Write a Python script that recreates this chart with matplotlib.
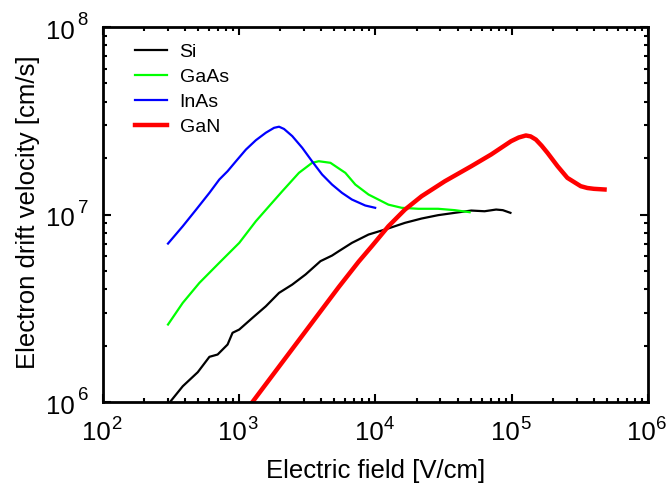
import numpy as np
import matplotlib
matplotlib.use("Agg")
import matplotlib.pyplot as plt
from matplotlib.transforms import offset_copy

plt.rcParams['font.family'] = ['Liberation Sans', 'DejaVu Sans']

# --- drift velocity curves: field [V/cm], velocity [cm/s] ---
si_field = [300, 385, 496, 604, 694, 821, 893, 1000, 1250, 1567, 1959, 2449,
            3069, 3946, 4797, 5370, 6714, 8890, 1.177e4, 1.647e4, 2.18e4,
            2.88e4, 3.82e4, 5.05e4, 6.32e4, 7.68e4, 8.6e4, 9.78e4]
si_vel = [0.97e6, 1.214e6, 1.442e6, 1.742e6, 1.792e6, 2.026e6, 2.34e6, 2.435e6,
          2.81e6, 3.24e6, 3.82e6, 4.23e6, 4.79e6, 5.64e6, 6.04e6, 6.37e6,
          7.06e6, 7.82e6, 8.32e6, 9.03e6, 9.52e6, 9.92e6, 1.021e7, 1.05e7,
          1.041e7, 1.063e7, 1.055e7, 1.021e7]

gaas_field = [300, 385, 510, 714, 1000, 1324, 1656, 2071, 2741, 3428, 3837,
              4670, 6010, 7110, 8890, 1.05e4, 1.244e4, 1.556e4, 2.06e4,
              2.88e4, 3.82e4, 4.91e4]
gaas_vel = [2.59e6, 3.38e6, 4.32e6, 5.53e6, 7.06e6, 9.21e6, 1.108e7, 1.332e7,
            1.668e7, 1.887e7, 1.924e7, 1.887e7, 1.668e7, 1.445e7, 1.278e7,
            1.202e7, 1.129e7, 1.086e7, 1.073e7, 1.073e7, 1.055e7, 1.029e7]

inas_field = [300, 385, 483, 604, 714, 821, 946, 1119, 1324, 1567, 1801, 1959,
              2131, 2449, 2898, 3428, 4055, 4797, 5675, 6714, 8413, 9944]
inas_vel = [7.0e6, 8.66e6, 1.063e7, 1.305e7, 1.537e7, 1.702e7, 1.924e7, 2.22e7,
            2.49e7, 2.73e7, 2.90e7, 2.94e7, 2.86e7, 2.62e7, 2.27e7, 1.92e7,
            1.635e7, 1.445e7, 1.305e7, 1.202e7, 1.117e7, 1.086e7]

gan_field = [1250, 5370, 7516, 9400, 1.244e4, 1.647e4, 2.18e4, 3.23e4, 5.05e4,
             7.06e4, 9.88e4, 1.125e5, 1.27e5, 1.376e5, 1.504e5, 1.656e5,
             1.832e5, 2.17e5, 2.56e5, 3.21e5, 3.59e5, 4.01e5, 4.8e5]
gan_vel = [1.0e6, 4.1e6, 5.6e6, 6.78e6, 8.66e6, 1.063e7, 1.252e7, 1.505e7,
           1.81e7, 2.09e7, 2.46e7, 2.575e7, 2.64e7, 2.61e7, 2.51e7, 2.33e7,
           2.13e7, 1.81e7, 1.569e7, 1.416e7, 1.385e7, 1.371e7, 1.36e7]

x_exps = [2, 3, 4, 5, 6]
y_exps = [6, 7, 8]

fig = plt.figure(figsize=(6.71, 4.86), dpi=100)
ax = fig.add_axes([0.1535, 0.1728, 0.8122, 0.7716])

ax.plot(si_field, si_vel, color='black', lw=1.6, label='Si')
ax.plot(gaas_field, gaas_vel, color='#00ff00', lw=1.6, label='GaAs')
ax.plot(inas_field, inas_vel, color='#0000ff', lw=1.6, label='InAs')
ax.plot(gan_field, gan_vel, color='#ff0000', lw=3.2, label='GaN')

ax.set_xscale('log')
ax.set_yscale('log')
ax.set_xlim(1e2, 1e6)
ax.set_ylim(1e6, 1e8)
ax.set_xticks([10.0 ** p for p in x_exps])
ax.set_yticks([10.0 ** p for p in y_exps])

ax.tick_params(which='both', direction='in', top=True, right=True, width=1.5,
               labelbottom=False, labelleft=False)
ax.tick_params(which='major', length=6)
ax.tick_params(which='minor', length=3)
for s in ax.spines.values():
    s.set_linewidth(2)

# tick labels as "10" plus a raised exponent
base_fs, exp_fs = 18.5, 13.4
xt = ax.get_xaxis_transform()
for p in x_exps:
    ax.text(10.0 ** p, 0, '10', fontsize=base_fs, ha='right', va='baseline',
            transform=offset_copy(xt, fig=fig, x=8, y=-38, units='dots'),
            clip_on=False)
    ax.text(10.0 ** p, 0, str(p), fontsize=exp_fs, ha='left', va='baseline',
            transform=offset_copy(xt, fig=fig, x=8, y=-27, units='dots'),
            clip_on=False)
yt = ax.get_yaxis_transform()
for p in y_exps:
    ax.text(0, 10.0 ** p, '10', fontsize=base_fs, ha='left', va='baseline',
            transform=offset_copy(yt, fig=fig, x=-56.5, y=-11.7, units='dots'),
            clip_on=False)
    ax.text(0, 10.0 ** p, str(p), fontsize=exp_fs, ha='left', va='baseline',
            transform=offset_copy(yt, fig=fig, x=-25.4, y=1.7, units='dots'),
            clip_on=False)

ax.set_xlabel('Electric field [V/cm]', fontsize=18.5, va='top')
ax.xaxis.set_label_coords(0.5, -0.151)
ax.set_ylabel('Electron drift velocity [cm/s]', fontsize=18.5)
ax.yaxis.set_label_coords(-0.1156, 0.507)

ax.legend(loc='upper left', bbox_to_anchor=(0.0345, 0.993), frameon=False,
          fontsize=14, handlelength=1.65, handletextpad=0.62,
          labelspacing=0.38, borderpad=0.2)

fig.savefig('out.png', dpi=100)
